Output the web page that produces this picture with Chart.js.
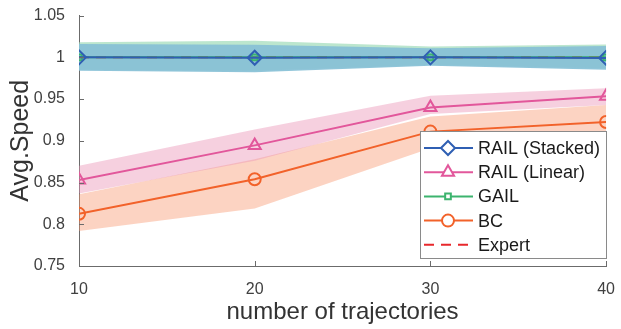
<!DOCTYPE html>
<html>
<head>
<style>
  html, body { margin: 0; padding: 0; background: #fff; }
  #wrap { width: 621px; height: 329px; }
</style>
</head>
<body>
<div id="wrap"><canvas id="chart"></canvas></div>
<script src="https://cdn.jsdelivr.net/npm/chart.js@4/dist/chart.umd.min.js"></script>
<script>
// trajectories on x axis
const trajectories = [10, 20, 30, 40];

const stackedMean = [1.0, 0.9995, 1.0, 0.9993];
const stackedUpper = [1.016, 1.015, 1.011, 1.0135];
const stackedLower = [0.984, 0.982, 0.990, 0.985];

const linearMean = [0.853, 0.8945, 0.940, 0.9535];
const linearUpper = [0.870, 0.9135, 0.954, 0.963];
const linearLower = [0.837, 0.876, 0.932, 0.943];

const gailMean = [1.0, 1.0, 1.0, 1.0];
const gailUpper = [1.018, 1.020, 1.013, 1.0155];
const gailLower = [0.985, 0.984, 0.991, 0.987];

const bcMean = [0.8125, 0.854, 0.911, 0.9225];
const bcUpper = [0.836, 0.878, 0.929, 0.943];
const bcLower = [0.792, 0.819, 0.891, 0.904];

const expertMean = [1.0, 1.0, 1.0, 1.0];

const yTicks = [0.75, 0.8, 0.85, 0.9, 0.95, 1, 1.05];

const pts = ys => trajectories.map((x, i) => ({x: x, y: ys[i]}));

function band(up, lo, color) {
  return [
    { data: pts(up), borderWidth: 0, pointRadius: 0, fill: false, showLine: true, isBand: true },
    { data: pts(lo), borderWidth: 0, pointRadius: 0, fill: '-1', backgroundColor: color, showLine: true, isBand: true }
  ];
}

function line(label, ys, color, style, extra) {
  return Object.assign({
    label: label,
    data: pts(ys),
    borderColor: color,
    borderWidth: 2,
    pointStyle: style,
    pointRadius: 6,
    pointBorderWidth: 2,
    pointBorderColor: color,
    pointBackgroundColor: 'rgba(0,0,0,0)',
    showLine: true,
    fill: false
  }, extra || {});
}

const datasets = [
  line('RAIL (Stacked)', stackedMean, '#2f5fb3', 'rectRot', {pointRadius: 7}),
  line('RAIL (Linear)', linearMean, '#e2579b', 'triangle', {pointRadius: 7}),
  line('GAIL', gailMean, '#3cb46e', 'rect', {pointRadius: 4}),
  line('BC', bcMean, '#f2622a', 'circle'),
  line('Expert', expertMean, '#e8282c', false, {pointRadius: 0, borderDash: [10, 7]}),
  ...band(stackedUpper, stackedLower, 'rgba(135,192,214,0.92)'),
  ...band(gailUpper, gailLower, 'rgba(160,220,185,0.7)'),
  ...band(linearUpper, linearLower, 'rgba(236,150,185,0.45)'),
  ...band(bcUpper, bcLower, 'rgba(249,150,110,0.42)')
];

const font = 'Liberation Sans, Arial, sans-serif';

const extras = {
  id: 'extras',
  afterDraw(chart) {
    const ctx = chart.ctx;
    const xs = chart.scales.x, ys = chart.scales.y;
    const a = chart.chartArea;
    ctx.save();
    // inward ticks
    ctx.strokeStyle = '#6b6b6b';
    ctx.lineWidth = 1;
    ctx.beginPath();
    trajectories.forEach(t => {
      const px = Math.round(xs.getPixelForValue(t)) + 0.5;
      ctx.moveTo(px, a.bottom); ctx.lineTo(px, a.bottom - 5);
    });
    yTicks.forEach(v => {
      const py = Math.round(ys.getPixelForValue(v)) + 0.5;
      ctx.moveTo(a.left, py); ctx.lineTo(a.left + 5, py);
    });
    ctx.stroke();

    // legend box
    const bx = 420.5, by = 131.5, bw = 186, bh = 127;
    ctx.fillStyle = '#fff';
    ctx.fillRect(bx, by, bw, bh);
    ctx.strokeStyle = '#8a8a8a';
    ctx.strokeRect(bx, by, bw, bh);
    const items = chart.data.datasets.filter(d => !d.isBand);
    ctx.font = '18px ' + font;
    ctx.textBaseline = 'middle';
    items.forEach((d, i) => {
      const y = 148 + i * 24.2;
      ctx.save();
      ctx.strokeStyle = d.borderColor;
      ctx.lineWidth = 2;
      if (d.borderDash) ctx.setLineDash([10, 7]);
      ctx.beginPath();
      ctx.moveTo(424, y); ctx.lineTo(473, y);
      ctx.stroke();
      ctx.setLineDash([]);
      if (d.pointStyle) {
        ctx.fillStyle = '#fff';
        Chart.helpers.drawPoint(ctx, {
          pointStyle: d.pointStyle, radius: d.pointRadius, rotation: 0, borderWidth: 2
        }, 448, y);
      }
      ctx.restore();
      ctx.fillStyle = '#1a1a1a';
      ctx.fillText(d.label, 478, y + 1);
    });
    ctx.restore();
  }
};

new Chart(document.getElementById('chart'), {
  type: 'scatter',
  data: { datasets: datasets },
  options: {
    responsive: true,
    maintainAspectRatio: false,
    animation: false,
    layout: { padding: { left: 0, right: 10, top: 15, bottom: 0 } },
    plugins: {
      legend: { display: false },
      tooltip: { enabled: false },
      filler: { propagate: false }
    },
    scales: {
      x: {
        type: 'linear',
        min: 10, max: 40,
        afterFit: s => { s.height = 63; },
        afterBuildTicks: s => { s.ticks = trajectories.map(v => ({value: v})); },
        grid: { display: false },
        border: { display: true, color: '#6b6b6b', width: 1 },
        ticks: { color: '#404040', font: { family: font, size: 16 }, padding: 6 },
        title: { display: true, text: 'number of trajectories', color: '#333',
                 font: { family: font, size: 24 }, padding: { top: 0, bottom: 2 } }
      },
      y: {
        min: 0.75, max: 1.05,
        afterFit: s => { s.width = 79; },
        afterBuildTicks: s => { s.ticks = yTicks.map(v => ({value: v})); },
        grid: { display: false },
        border: { display: true, color: '#6b6b6b', width: 1 },
        ticks: { color: '#404040', font: { family: font, size: 16 }, padding: 6,
                 callback: v => String(Math.round(v * 100) / 100) },
        title: { display: true, text: 'Avg.Speed', color: '#333',
                 font: { family: font, size: 25 }, padding: { top: 6, bottom: 0 } }
      }
    }
  },
  plugins: [extras]
});
</script>
</body>
</html>
